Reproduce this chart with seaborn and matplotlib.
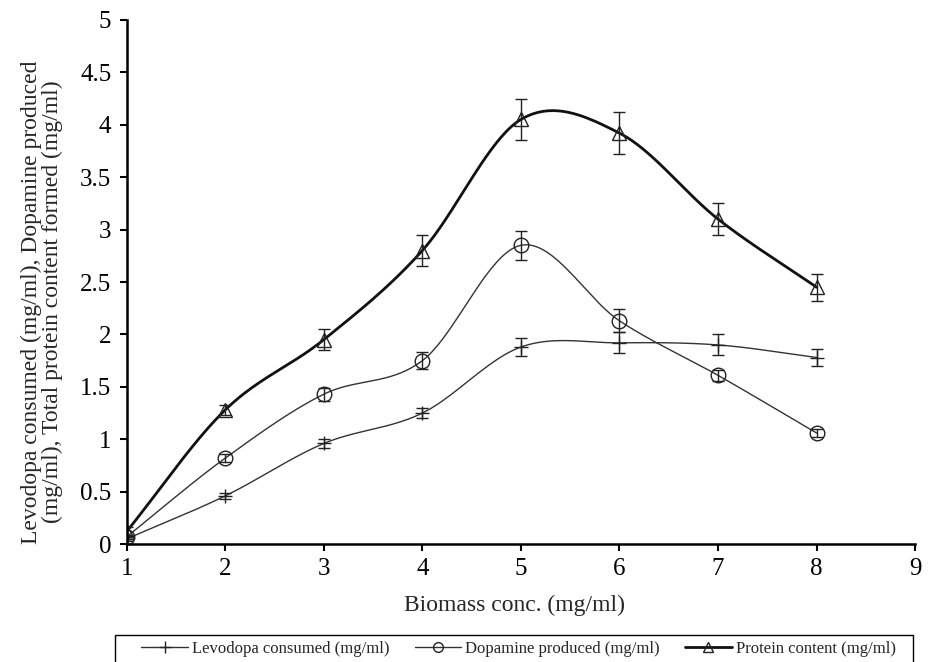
import numpy as np
import pandas as pd
import matplotlib
matplotlib.use("Agg")
import matplotlib.pyplot as plt
import seaborn as sns
from matplotlib.lines import Line2D
from matplotlib.patches import Rectangle

biomass = [1, 2, 3, 4, 5, 6, 7, 8]
levodopa = [0.05, 0.46, 0.96, 1.25, 1.88, 1.92, 1.90, 1.78]
levodopa_err = [0.02, 0.03, 0.04, 0.05, 0.09, 0.10, 0.10, 0.08]
dopamine = [0.07, 0.82, 1.43, 1.75, 2.85, 2.13, 1.61, 1.06]
dopamine_err = [0.02, 0.04, 0.06, 0.08, 0.14, 0.11, 0.05, 0.04]
protein = [0.12, 1.28, 1.95, 2.80, 4.05, 3.92, 3.10, 2.45]
protein_err = [0.04, 0.05, 0.10, 0.15, 0.20, 0.20, 0.15, 0.13]

labels = ["Levodopa consumed (mg/ml)", "Dopamine produced (mg/ml)", "Protein content (mg/ml)"]

sns.set_theme(style="ticks")
plt.rcParams['font.family'] = ['Liberation Serif', 'DejaVu Serif']


def smooth(x, y, n=40):
    """Catmull-Rom style smoothing, like spreadsheet smoothed lines."""
    x = np.asarray(x, float)
    y = np.asarray(y, float)
    px = np.concatenate([[2 * x[0] - x[1]], x, [2 * x[-1] - x[-2]]])
    py = np.concatenate([[2 * y[0] - y[1]], y, [2 * y[-1] - y[-2]]])
    xs, ys = [], []
    for i in range(1, len(px) - 2):
        t = np.linspace(0, 1, n, endpoint=False)
        for arr, out in ((px, xs), (py, ys)):
            p0, p1, p2, p3 = arr[i - 1], arr[i], arr[i + 1], arr[i + 2]
            out.extend(0.5 * ((2 * p1) + (-p0 + p2) * t +
                              (2 * p0 - 5 * p1 + 4 * p2 - p3) * t ** 2 +
                              (-p0 + 3 * p1 - 3 * p2 + p3) * t ** 3))
    xs.append(x[-1])
    ys.append(y[-1])
    return np.array(xs), np.array(ys)


fig = plt.figure(figsize=(9.31, 6.62), dpi=100)
ax = fig.add_axes([0.136, 0.178, 0.847, 0.792])

series = [
    (levodopa, levodopa_err, "+", 1.0, "#333333", 10),
    (dopamine, dopamine_err, "o", 1.0, "#333333", 10.5),
    (protein, protein_err, "^", 2.0, "#111111", 10.5),
]

rows = []
for lab, (vals, _, _, _, _, _) in zip(labels, series):
    sx, sy = smooth(biomass, vals)
    rows.append(pd.DataFrame({"x": sx, "y": sy, "series": lab}))
curve_df = pd.concat(rows, ignore_index=True)

for lab, (vals, errs, mk, lw, col, ms) in zip(labels, series):
    sns.lineplot(data=curve_df[curve_df.series == lab], x="x", y="y", ax=ax,
                 color=col, linewidth=lw, sort=False, estimator=None, legend=False)
    ax.errorbar(biomass, vals, yerr=errs, fmt=mk, markersize=ms,
                markerfacecolor="none", markeredgecolor="#222222",
                markeredgewidth=1.0, ecolor="#222222", elinewidth=1.0,
                capsize=4.5, capthick=1.0, linestyle="none")

ax.set_xlim(1, 9)
ax.set_ylim(0, 5)
ax.set_xticks(range(1, 10))
ax.set_yticks(np.arange(0, 5.01, 0.5))
ax.set_yticklabels([("%g" % v) for v in np.arange(0, 5.01, 0.5)])
ax.tick_params(axis="both", direction="out", length=5, width=1.5,
               labelsize=18, colors="black")
ax.tick_params(axis="x", pad=5)
ax.tick_params(axis="y", pad=6)
for s in ["top", "right"]:
    ax.spines[s].set_visible(False)
for s in ["left", "bottom"]:
    ax.spines[s].set_linewidth(1.8)
    ax.spines[s].set_color("black")

ax.set_xlabel("Biomass conc. (mg/ml)", fontsize=17)
ax.xaxis.set_label_coords(0.492, -0.097)
ax.set_ylabel("Levodopa consumed (mg/ml), Dopamine produced\n(mg/ml), Total protein content formed (mg/ml)",
              fontsize=17, linespacing=0.95)
ax.yaxis.set_label_coords(-0.081, 0.462)

handles = [
    Line2D([0], [0], color="#333333", lw=1.0, marker="+", markersize=9,
           markeredgecolor="#222222"),
    Line2D([0], [0], color="#333333", lw=1.0, marker="o", markersize=7,
           markerfacecolor="none", markeredgecolor="#222222"),
    Line2D([0], [0], color="#111111", lw=2.0, marker="^", markersize=7,
           markerfacecolor="none", markeredgecolor="#222222"),
]
leg = fig.legend(handles, labels, loc="center", ncol=3,
                 bbox_to_anchor=(518.5 / 931, 1 - 649 / 662),
                 frameon=False, fontsize=12, handlelength=2.8,
                 borderaxespad=0.0, borderpad=0.3, columnspacing=1.5,
                 handletextpad=0.25)

fig.patches.append(Rectangle((115 / 931, -0.02), 798 / 931, (662 - 635) / 662 + 0.02,
                             transform=fig.transFigure, fill=False,
                             edgecolor="black", linewidth=1.0, zorder=5))

fig.savefig("out.png", dpi=100, facecolor="white")
